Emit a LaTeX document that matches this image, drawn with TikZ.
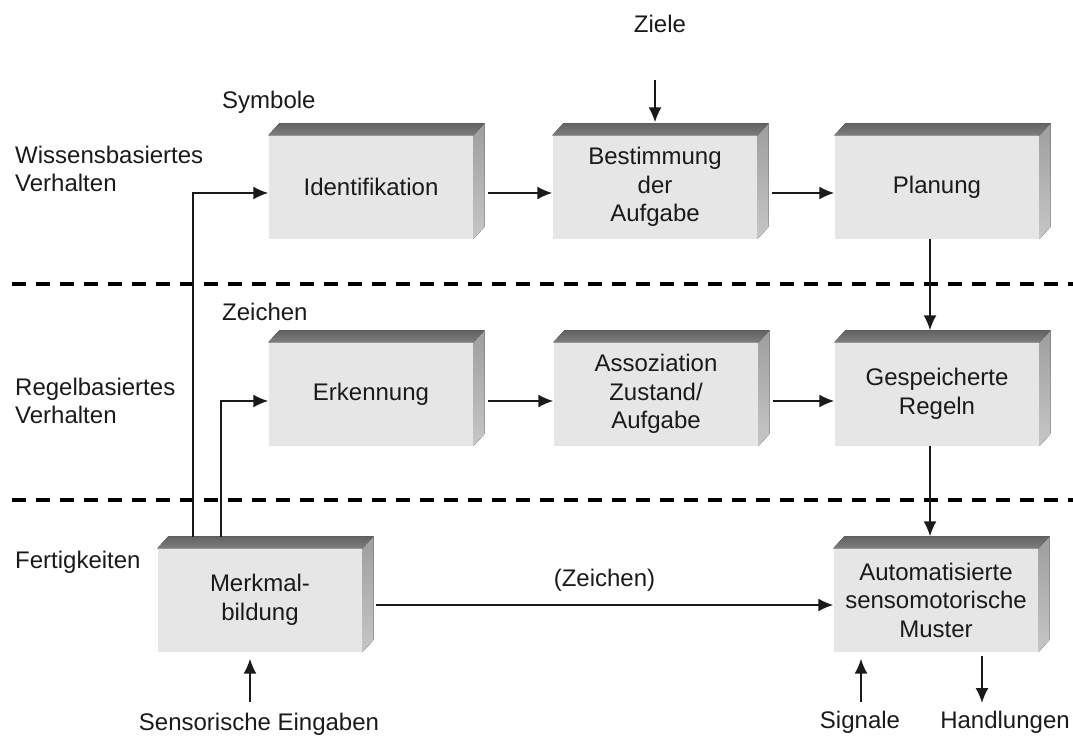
\documentclass[tikz,border=0pt]{standalone}
\usepackage{fontspec}
\setmainfont{Liberation Sans}
\usetikzlibrary{arrows.meta,calc}
\definecolor{frontgray}{HTML}{E6E6E6}
\definecolor{topdark}{HTML}{626262}
\definecolor{toplight}{HTML}{7E7E7E}
\definecolor{sidedark}{HTML}{9E9E9E}
\definecolor{sidelight}{HTML}{C6C6C6}
\definecolor{inkgray}{HTML}{1A1A1A}
\begin{document}
\begin{tikzpicture}[x=1pt,y=-1pt,
  font=\fontsize{24}{28.5}\selectfont,
  every node/.style={text=inkgray},
  block/.style={rectangle, fill=frontgray, minimum width=205pt, minimum height=103pt,
                inner sep=0pt, align=center},
  lbl/.style={inner sep=0pt, align=left},
  arr/.style={-{Latex[length=15pt,width=13pt]}, line width=1.7pt, draw=inkgray},
  sep/.style={line width=4.5pt, dash pattern=on 14pt off 10pt, draw=black},
  topface/.style={top color=topdark, bottom color=toplight},
  sideface/.style={top color=sidedark, bottom color=sidelight}]
\useasboundingbox (0,0) rectangle (1073,742);

% layer separators
\draw[sep] (12,284) -- (1073,284);
\draw[sep] (12,500) -- (1073,500);

% level labels
\node[lbl, anchor=west] (lvlA) at (15,169) {Wissensbasiertes\\Verhalten};
\node[lbl, anchor=west] (lvlB) at (15,401) {Regelbasiertes\\Verhalten};
\node[lbl, anchor=west] (lvlC) at (15,562) {Fertigkeiten};
\node[lbl, anchor=west] (sym) at (222,102) {Symbole};
\node[lbl, anchor=west] (zch) at (222,312) {Zeichen};

% blocks (front faces)
\node[block] (ident) at (371,187) {Identifikation};
\node[block] (best)  at (655,187) {Bestimmung\\der\\Aufgabe};
\node[block] (plan)  at (937,187) {Planung};
\node[block] (erk)   at (371,394) {Erkennung};
\node[block] (asso)  at (656,394) {Assoziation\\Zustand/\\Aufgabe};
\node[block] (gesp)  at (937,394) {Gespeicherte\\Regeln};
\node[block] (merk)  at (260,600) {Merkmal-\\bildung};
\node[block] (auto)  at (936,600) {Automatisierte\\sensomotorische\\Muster};

% top and side faces of the blocks
\foreach \n in {ident,best,plan,erk,asso,gesp,merk,auto}{
  \fill[topface] (\n.north west) -- ++(11,-12) -- ($(\n.north east)+(11,-12)$)
                 -- (\n.north east) -- cycle;
  \fill[sideface] (\n.north east) -- ++(11,-12) -- ($(\n.south east)+(11,-12)$)
                  -- (\n.south east) -- cycle;
}

% outer labels
\node[lbl] (ziele) at (660,24) {Ziele};
\node[lbl] (sens) at (259,724) {Sensorische Eingaben};
\node[lbl] (sig) at (860,722) {Signale};
\node[lbl] (hand) at (1005,722) {Handlungen};

% free ends of the outer arrows
\coordinate (zielIn) at (655,80);
\coordinate (sensIn) at (250,702);
\coordinate (sigIn) at (861,702);
\coordinate (handOut) at (982,703);
\coordinate (m1) at ($(merk.north west)+(36,-11)$);
\coordinate (m2) at ($(merk.north west)+(64,-11)$);

% knowledge-based level
\draw[arr] (zielIn) -- ($(best.north)+(0,-13)$);
\draw[arr] ($(ident.east)+(14,6)$) -- ($(best.west)+(0,6)$);
\draw[arr] ($(best.east)+(14,6)$) -- ($(plan.west)+(0,6)$);
\draw[arr] ($(plan.south)+(-7,0)$) -- ($(gesp.north)+(-7,-12)$);

% rule-based level
\draw[arr] ($(erk.east)+(14,7)$) -- ($(asso.west)+(0,7)$);
\draw[arr] ($(asso.east)+(14,7)$) -- ($(gesp.west)+(0,7)$);
\draw[arr] ($(gesp.south)+(-7,0)$) -- ($(auto.north)+(-6,-12)$);

% skill level
\draw[arr] (m1) |- ($(ident.west)+(0,6)$);
\draw[arr] (m2) |- ($(erk.west)+(0,7)$);
\draw[arr] ($(merk.east)+(13,5)$) -- node[lbl, above=13pt] (zlab) {(Zeichen)} ($(auto.west)+(0,5)$);
\draw[arr] (sensIn) -- ($(merk.south)+(-10,7)$);
\draw[arr] (sigIn) -- ($(auto.south)+(-75,7)$);
\draw[arr] ($(auto.south)+(46,4)$) -- (handOut);
\end{tikzpicture}
\end{document}
